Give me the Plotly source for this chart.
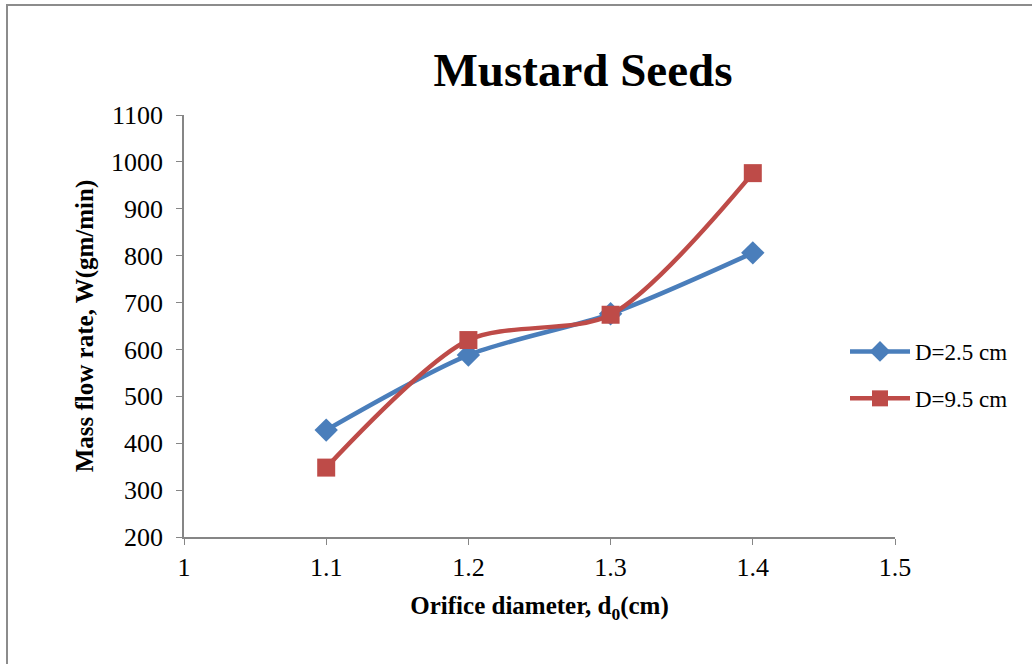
import plotly.graph_objects as go

# Orifice diameter (cm) and measured mass flow rates (gm/min)
orifice_d = [1.1, 1.2, 1.3, 1.4]
flow_d25 = [428, 588, 676, 806]
flow_d95 = [348, 620, 674, 976]

series_names = ["D=2.5 cm", "D=9.5 cm"]
x_ticks = [1, 1.1, 1.2, 1.3, 1.4, 1.5]
x_tick_text = ["1", "1.1", "1.2", "1.3", "1.4", "1.5"]
y_ticks = [200, 300, 400, 500, 600, 700, 800, 900, 1000, 1100]

BLUE = "#4a7ebb"
RED = "#be4b48"
AXIS = "#868686"
FONT = "Liberation Serif"

fig = go.Figure()
fig.add_trace(go.Scatter(
    x=orifice_d, y=flow_d25, name=series_names[0], legendgroup="d25",
    mode="lines+markers",
    line=dict(color=BLUE, width=4.5, shape="spline", smoothing=0.8),
    marker=dict(symbol="diamond", size=18, color=BLUE),
))
fig.add_trace(go.Scatter(
    x=orifice_d, y=flow_d95, name=series_names[1], legendgroup="d95",
    mode="lines+markers",
    line=dict(color=RED, width=4.5, shape="spline", smoothing=0.8),
    marker=dict(symbol="square", size=18, color=RED),
))

L, R, T, B = 184, 137, 115, 127
W, H = 1032, 664
pw, ph = W - L - R, H - T - B

fig.update_layout(
    width=W, height=H,
    margin=dict(l=L, r=R, t=T, b=B),
    paper_bgcolor="white", plot_bgcolor="white",
    font=dict(family=FONT, size=25, color="black"),
    title=dict(text="<b>Mustard Seeds</b>", font=dict(size=47, family=FONT),
               x=(583 - L) / pw, xref="paper", xanchor="center",
               y=1 - 70 / H, yanchor="middle"),
    showlegend=True,
    legend=dict(x=(845 - L) / pw, y=(H - B - 375) / ph, xanchor="left", yanchor="middle",
                font=dict(size=23, family=FONT), bgcolor="rgba(0,0,0,0)",
                tracegroupgap=14, itemwidth=60),
    xaxis=dict(range=[1, 1.5], tickvals=x_ticks, ticktext=x_tick_text,
               showgrid=False, zeroline=False, showline=True, linecolor=AXIS, linewidth=1.5,
               ticks="outside", tickcolor=AXIS, ticklen=6, tickfont=dict(size=26),
               title=dict(text="<b>Orifice diameter, d<sub>0</sub>(cm)</b>", font=dict(size=25),
                          standoff=16)),
    yaxis=dict(range=[200, 1100], tickvals=y_ticks,
               showgrid=False, zeroline=False, showline=True, linecolor=AXIS, linewidth=1.5,
               ticks="outside", tickcolor=AXIS, ticklen=6, tickfont=dict(size=26),
               ticklabelstandoff=8,
               title=dict(text="<b>Mass flow rate, W(gm/min)</b>", font=dict(size=25),
                          standoff=10)),
)

# Outer chart border
fig.add_shape(type="rect", xref="paper", yref="paper",
              x0=(7 - L) / pw, x1=(W + 20 - L) / pw,
              y0=(H - B - (H + 20)) / ph, y1=(H - B - 5) / ph,
              line=dict(color="#8c8c8c", width=2), fillcolor="rgba(0,0,0,0)", layer="below")

fig.write_html("out.html")
